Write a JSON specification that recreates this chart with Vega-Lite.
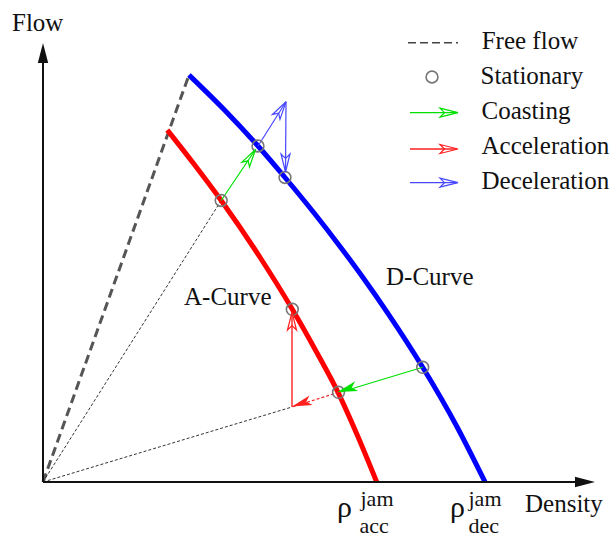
{
  "$schema": "https://vega.github.io/schema/vega-lite/v6.json",
  "width": 610,
  "height": 541,
  "padding": 0,
  "autosize": "none",
  "background": "white",
  "config": {"view": {"stroke": null}, "text": {"font": "'Liberation Serif', 'Times New Roman', Times, serif"}},
  "datasets": {
    "curves": [
      {"curve": "A", "ord": 1, "rho": 12.43, "q": 35.2},
      {"curve": "A", "ord": 2, "rho": 15.17, "q": 31.7},
      {"curve": "A", "ord": 3, "rho": 17.82, "q": 28.15},
      {"curve": "A", "ord": 4, "rho": 21.68, "q": 22.5},
      {"curve": "A", "ord": 5, "rho": 24.93, "q": 17.27},
      {"curve": "A", "ord": 6, "rho": 27.35, "q": 13.0},
      {"curve": "A", "ord": 7, "rho": 29.5, "q": 8.97},
      {"curve": "A", "ord": 8, "rho": 31.51, "q": 4.5},
      {"curve": "A", "ord": 9, "rho": 33.37, "q": 0},
      {"curve": "D", "ord": 1, "rho": 14.6, "q": 40.7},
      {"curve": "D", "ord": 2, "rho": 18.15, "q": 37.2},
      {"curve": "D", "ord": 3, "rho": 21.5, "q": 33.6},
      {"curve": "D", "ord": 4, "rho": 24.2, "q": 30.45},
      {"curve": "D", "ord": 5, "rho": 27.13, "q": 26.87},
      {"curve": "D", "ord": 6, "rho": 29.72, "q": 23.53},
      {"curve": "D", "ord": 7, "rho": 31.94, "q": 20.53},
      {"curve": "D", "ord": 8, "rho": 34.49, "q": 16.87},
      {"curve": "D", "ord": 9, "rho": 37.97, "q": 11.47},
      {"curve": "D", "ord": 10, "rho": 41.41, "q": 5.5},
      {"curve": "D", "ord": 11, "rho": 44.2, "q": 0}
    ],
    "segments": [
      {"seg": "free-flow", "kind": "free", "ord": 1, "rho": 0, "q": 0},
      {"seg": "free-flow", "kind": "free", "ord": 2, "rho": 14.6, "q": 40.7},
      {"seg": "ray-1", "kind": "ray", "ord": 1, "rho": 0, "q": 0},
      {"seg": "ray-1", "kind": "ray", "ord": 2, "rho": 17.82, "q": 28.15},
      {"seg": "ray-2", "kind": "ray", "ord": 1, "rho": 0, "q": 0},
      {"seg": "ray-2", "kind": "ray", "ord": 2, "rho": 24.9, "q": 7.5},
      {"seg": "coast-1", "kind": "coasting", "ord": 1, "rho": 17.82, "q": 28.15},
      {"seg": "coast-1", "kind": "coasting", "ord": 2, "rho": 21.25, "q": 33.25},
      {"seg": "coast-2", "kind": "coasting", "ord": 1, "rho": 37.97, "q": 11.47},
      {"seg": "coast-2", "kind": "coasting", "ord": 2, "rho": 29.8, "q": 9.0},
      {"seg": "decel-1", "kind": "deceleration", "ord": 1, "rho": 21.5, "q": 33.6},
      {"seg": "decel-1", "kind": "deceleration", "ord": 2, "rho": 24.3, "q": 38.02},
      {"seg": "decel-2", "kind": "deceleration", "ord": 1, "rho": 24.3, "q": 38.02},
      {"seg": "decel-2", "kind": "deceleration", "ord": 2, "rho": 24.25, "q": 31.0},
      {"seg": "accel-1", "kind": "acceleration-back", "ord": 1, "rho": 29.55, "q": 8.97},
      {"seg": "accel-1", "kind": "acceleration-back", "ord": 2, "rho": 24.9, "q": 7.5},
      {"seg": "accel-2", "kind": "acceleration", "ord": 1, "rho": 24.9, "q": 7.5},
      {"seg": "accel-2", "kind": "acceleration", "ord": 2, "rho": 24.9, "q": 17.0},
      {"seg": "axis-y", "kind": "axis", "ord": 1, "rho": 0, "q": 0},
      {"seg": "axis-y", "kind": "axis", "ord": 2, "rho": 0, "q": 43.0},
      {"seg": "axis-x", "kind": "axis", "ord": 1, "rho": 0, "q": 0},
      {"seg": "axis-x", "kind": "axis", "ord": 2, "rho": 54.5, "q": 0},
      {"seg": "key-free", "kind": "key-free", "ord": 1, "rho": 36.5, "q": 43.93},
      {"seg": "key-free", "kind": "key-free", "ord": 2, "rho": 41.5, "q": 43.93},
      {"seg": "key-coast", "kind": "coasting", "ord": 1, "rho": 36.7, "q": 36.93},
      {"seg": "key-coast", "kind": "coasting", "ord": 2, "rho": 41.4, "q": 36.93},
      {"seg": "key-accel", "kind": "acceleration", "ord": 1, "rho": 36.7, "q": 33.3},
      {"seg": "key-accel", "kind": "acceleration", "ord": 2, "rho": 41.4, "q": 33.3},
      {"seg": "key-decel", "kind": "deceleration", "ord": 1, "rho": 36.7, "q": 29.93},
      {"seg": "key-decel", "kind": "deceleration", "ord": 2, "rho": 41.4, "q": 29.93}
    ],
    "stationary": [
      {"rho": 17.82, "q": 28.15},
      {"rho": 21.5, "q": 33.6},
      {"rho": 24.2, "q": 30.45},
      {"rho": 24.93, "q": 17.27},
      {"rho": 29.55, "q": 8.97},
      {"rho": 37.97, "q": 11.47},
      {"rho": 38.9, "q": 40.5}
    ],
    "heads": [
      {"kind": "coasting", "head": "open", "rho": 21.25, "q": 33.25, "heading": 33},
      {"kind": "deceleration", "head": "open", "rho": 24.3, "q": 38.02, "heading": 33},
      {"kind": "deceleration", "head": "open", "rho": 24.25, "q": 31.0, "heading": 180},
      {"kind": "acceleration", "head": "open", "rho": 24.9, "q": 17.0, "heading": 0},
      {"kind": "coasting", "head": "filled", "rho": 29.45, "q": 9.0, "heading": 253},
      {"kind": "acceleration", "head": "filled", "rho": 24.9, "q": 7.55, "heading": 252},
      {"kind": "coasting", "head": "open", "rho": 41.5, "q": 36.93, "heading": 90},
      {"kind": "acceleration", "head": "open", "rho": 41.5, "q": 33.3, "heading": 90},
      {"kind": "deceleration", "head": "open", "rho": 41.5, "q": 29.93, "heading": 90},
      {"kind": "axis", "head": "axis", "rho": 0, "q": 43.9, "heading": 0},
      {"kind": "axis", "head": "axis", "rho": 55.2, "q": 0, "heading": 90}
    ],
    "labels": [
      {"role": "main", "text": "Flow", "rho": -3.1, "q": 45.1},
      {"role": "main", "text": "Density", "rho": 48.2, "q": -3.03},
      {"role": "main", "text": "A-Curve", "rho": 14.1, "q": 17.75},
      {"role": "main", "text": "D-Curve", "rho": 34.3, "q": 19.7},
      {"role": "main", "text": "Free flow", "rho": 43.87, "q": 43.27},
      {"role": "main", "text": "Stationary", "rho": 43.75, "q": 39.8},
      {"role": "main", "text": "Coasting", "rho": 43.85, "q": 36.27},
      {"role": "main", "text": "Acceleration", "rho": 43.85, "q": 32.77},
      {"role": "main", "text": "Deceleration", "rho": 43.85, "q": 29.3},
      {"role": "rho", "text": "ρ", "rho": 29.4, "q": -3.47},
      {"role": "rho", "text": "ρ", "rho": 40.7, "q": -3.47},
      {"role": "script", "text": "jam", "rho": 31.75, "q": -2.4},
      {"role": "script", "text": "acc", "rho": 31.65, "q": -5.07},
      {"role": "script", "text": "jam", "rho": 42.55, "q": -2.4},
      {"role": "script", "text": "dec", "rho": 42.55, "q": -5.07}
    ]
  },
  "encoding": {
    "x": {"field": "rho", "type": "quantitative", "scale": {"domain": [-4.3, 56.7], "nice": false, "zero": false}, "axis": null},
    "y": {"field": "q", "type": "quantitative", "scale": {"domain": [-5.9, 48.2], "nice": false, "zero": false}, "axis": null}
  },
  "layer": [
    {
      "data": {"name": "segments"},
      "transform": [{"filter": "datum.kind === 'free'"}],
      "mark": {"type": "line", "color": "#555555", "strokeWidth": 3, "strokeDash": [9, 5]},
      "encoding": {"detail": {"field": "seg"}, "order": {"field": "ord"}}
    },
    {
      "data": {"name": "segments"},
      "transform": [{"filter": "datum.kind === 'ray'"}],
      "mark": {"type": "line", "color": "#333333", "strokeWidth": 1, "strokeDash": [3, 2]},
      "encoding": {"detail": {"field": "seg"}, "order": {"field": "ord"}}
    },
    {
      "data": {"name": "curves"},
      "transform": [{"filter": "datum.curve === 'A'"}],
      "mark": {"type": "line", "color": "#ff0000", "strokeWidth": 5, "interpolate": "monotone"},
      "encoding": {"order": {"field": "ord"}}
    },
    {
      "data": {"name": "curves"},
      "transform": [{"filter": "datum.curve === 'D'"}],
      "mark": {"type": "line", "color": "#0000ff", "strokeWidth": 5, "interpolate": "monotone"},
      "encoding": {"order": {"field": "ord"}}
    },
    {
      "data": {"name": "segments"},
      "transform": [{"filter": "datum.kind === 'coasting'"}],
      "mark": {"type": "line", "color": "#00e000", "strokeWidth": 1.2},
      "encoding": {"detail": {"field": "seg"}, "order": {"field": "ord"}}
    },
    {
      "data": {"name": "segments"},
      "transform": [{"filter": "datum.kind === 'deceleration'"}],
      "mark": {"type": "line", "color": "#4848ff", "strokeWidth": 1.2},
      "encoding": {"detail": {"field": "seg"}, "order": {"field": "ord"}}
    },
    {
      "data": {"name": "segments"},
      "transform": [{"filter": "datum.kind === 'acceleration'"}],
      "mark": {"type": "line", "color": "#ff2020", "strokeWidth": 1.4},
      "encoding": {"detail": {"field": "seg"}, "order": {"field": "ord"}}
    },
    {
      "data": {"name": "segments"},
      "transform": [{"filter": "datum.kind === 'acceleration-back'"}],
      "mark": {"type": "line", "color": "#ee2020", "strokeWidth": 1.2, "strokeDash": [3, 2]},
      "encoding": {"detail": {"field": "seg"}, "order": {"field": "ord"}}
    },
    {
      "data": {"name": "segments"},
      "transform": [{"filter": "datum.kind === 'axis'"}],
      "mark": {"type": "line", "color": "#111111", "strokeWidth": 2},
      "encoding": {"detail": {"field": "seg"}, "order": {"field": "ord"}}
    },
    {
      "data": {"name": "segments"},
      "transform": [{"filter": "datum.kind === 'key-free'"}],
      "mark": {"type": "line", "color": "#444444", "strokeWidth": 1.5, "strokeDash": [8, 4]},
      "encoding": {"detail": {"field": "seg"}, "order": {"field": "ord"}}
    },
    {
      "data": {"name": "stationary"},
      "mark": {"type": "point", "shape": "circle", "filled": false, "size": 140, "stroke": "#777777", "strokeWidth": 1.6, "opacity": 1}
    },
    {
      "data": {"name": "heads"},
      "transform": [{"filter": "datum.head === 'open'"}],
      "mark": {"type": "point", "shape": "M-0.5,2L0,0L0.5,2L0,1.5Z", "filled": false, "size": 324, "strokeWidth": 1.2, "opacity": 1},
      "encoding": {
        "angle": {"field": "heading", "type": "quantitative", "scale": null},
        "color": {"field": "kind", "type": "nominal", "scale": {"domain": ["coasting", "acceleration", "deceleration"], "range": ["#00e000", "#ff2020", "#4848ff"]}, "legend": null}
      }
    },
    {
      "data": {"name": "heads"},
      "transform": [{"filter": "datum.head === 'filled'"}],
      "mark": {"type": "point", "shape": "M-0.5,2L0,0L0.5,2L0,1.5Z", "filled": true, "size": 400, "opacity": 1},
      "encoding": {
        "angle": {"field": "heading", "type": "quantitative", "scale": null},
        "color": {"field": "kind", "type": "nominal", "scale": {"domain": ["coasting", "acceleration", "deceleration"], "range": ["#00e000", "#ff2020", "#4848ff"]}, "legend": null}
      }
    },
    {
      "data": {"name": "heads"},
      "transform": [{"filter": "datum.head === 'axis'"}],
      "mark": {"type": "point", "shape": "M0,0L0.52,2L-0.52,2Z", "filled": true, "size": 400, "color": "#111111", "opacity": 1},
      "encoding": {"angle": {"field": "heading", "type": "quantitative", "scale": null}}
    },
    {
      "data": {"name": "labels"},
      "transform": [{"filter": "datum.role === 'main'"}],
      "mark": {"type": "text", "fontSize": 25, "align": "left", "baseline": "alphabetic", "color": "#111111"},
      "encoding": {"text": {"field": "text"}}
    },
    {
      "data": {"name": "labels"},
      "transform": [{"filter": "datum.role === 'rho'"}],
      "mark": {"type": "text", "fontSize": 30, "align": "left", "baseline": "alphabetic", "color": "#111111"},
      "encoding": {"text": {"field": "text"}}
    },
    {
      "data": {"name": "labels"},
      "transform": [{"filter": "datum.role === 'script'"}],
      "mark": {"type": "text", "fontSize": 22, "align": "left", "baseline": "alphabetic", "color": "#111111"},
      "encoding": {"text": {"field": "text"}}
    }
  ]
}
